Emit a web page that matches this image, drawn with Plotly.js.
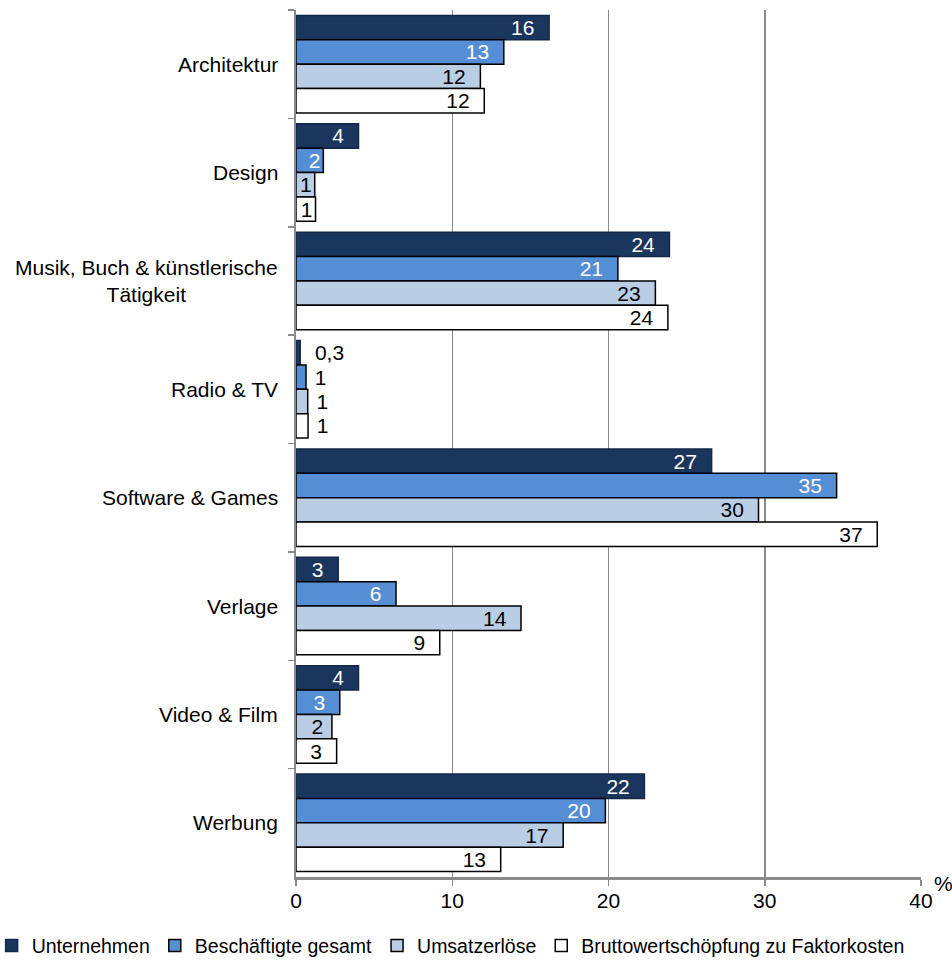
<!DOCTYPE html>
<html>
<head>
<meta charset="utf-8">
<script src="https://cdn.plot.ly/plotly-3.0.1.min.js"></script>
<style>
  html, body { margin: 0; padding: 0; background: #fff; }
  #chart { width: 952px; height: 962px; }
</style>
</head>
<body>
<div id="chart"></div>
<script>
// Branchen der Kreativwirtschaft
const categories = [
  'Architektur',
  'Design',
  'Musik, Buch & künstlerische<br>Tätigkeit',
  'Radio & TV',
  'Software & Games',
  'Verlage',
  'Video & Film',
  'Werbung'
];

// Anteile in %
const unternehmen   = [16.2, 4.0, 23.9, 0.27, 26.6, 2.7, 4.0, 22.3];
const beschaeftigte = [13.3, 1.75, 20.6, 0.64, 34.6, 6.4, 2.8, 19.8];
const umsatz        = [11.8, 1.2, 23.0, 0.75, 29.6, 14.4, 2.3, 17.1];
const brutto        = [12.05, 1.25, 23.8, 0.77, 37.2, 9.2, 2.6, 13.1];

const seriesNames = [
  'Unternehmen',
  'Beschäftigte gesamt',
  'Umsatzerlöse',
  'Bruttowertschöpfung zu Faktorkosten'
];

const xTicks = [0, 10, 20, 30, 40];

const FONT = 'Liberation Sans, Arial, sans-serif';
const GRID = '#8a8a8a';
const NB = '\u00a0';

// label text: value rounded, with a little inset from the bar end
function labelTemplate(v) {
  if (v < 0.5) return NB + NB + '%{x:.1f}';
  if (v < 1) return NB + '%{x:.0f}';
  const pad = v >= 2.5 ? 2 : (v >= 2 ? 1 : 0);
  return '%{x:.0f}' + NB.repeat(pad);
}

function makeTrace(values, name, fill, textColor, lineColor) {
  return {
    type: 'bar',
    orientation: 'h',
    name: name,
    y: categories,
    x: values,
    marker: { color: fill, line: { color: lineColor, width: 1.5 } },
    texttemplate: values.map(labelTemplate),
    textposition: values.map(v => v < 1 ? 'outside' : 'inside'),
    textangle: 0,
    insidetextanchor: 'end',
    constraintext: 'none',
    insidetextfont: { family: FONT, size: 21, color: textColor },
    outsidetextfont: { family: FONT, size: 21, color: '#000' },
    cliponaxis: false,
    hoverinfo: 'x+name'
  };
}

const data = [
  makeTrace(unternehmen,   seriesNames[0], '#1b365d', '#ffffff', '#14294a'),
  makeTrace(beschaeftigte, seriesNames[1], '#558ed5', '#ffffff', '#000000'),
  makeTrace(umsatz,        seriesNames[2], '#b9cde5', '#000000', '#000000'),
  makeTrace(brutto,        seriesNames[3], '#ffffff', '#000000', '#000000')
];

// category labels, centred line by line left of the axis
const labelAnnotations = categories.map(c => ({
  xref: 'paper', yref: 'y',
  x: 0, y: c,
  xanchor: 'right', yanchor: 'middle',
  xshift: -16,
  text: c,
  align: 'center',
  showarrow: false,
  font: { family: FONT, size: 21, color: '#000' }
}));

const layout = {
  width: 952,
  height: 962,
  margin: { l: 296, r: 31, t: 10, b: 85, pad: 0, autoexpand: false },
  paper_bgcolor: '#ffffff',
  plot_bgcolor: '#ffffff',
  font: { family: FONT, size: 21, color: '#000' },
  separators: ',.',
  barmode: 'group',
  bargap: 0.1,
  bargroupgap: 0,
  showlegend: true,
  xaxis: {
    range: [0, 40],
    tickvals: xTicks,
    ticktext: xTicks.map(String),
    showgrid: true,
    gridcolor: GRID,
    gridwidth: 1.5,
    zeroline: false,
    showline: true,
    linecolor: GRID,
    linewidth: 3,
    ticks: 'outside',
    ticklen: 6,
    tickwidth: 1.5,
    tickcolor: GRID,
    ticklabelstandoff: -3,
    tickfont: { family: FONT, size: 21, color: '#000' },
    automargin: false,
    fixedrange: true
  },
  yaxis: {
    type: 'category',
    autorange: 'reversed',
    showticklabels: false,
    showgrid: false,
    zeroline: false,
    showline: true,
    linecolor: GRID,
    linewidth: 2,
    ticks: 'outside',
    tickson: 'boundaries',
    ticklen: 6,
    tickwidth: 1.5,
    tickcolor: GRID,
    automargin: false,
    fixedrange: true
  },
  legend: {
    orientation: 'h',
    x: -0.487,
    xanchor: 'left',
    y: -0.057,
    yanchor: 'top',
    font: { family: FONT, size: 19.5, color: '#000' },
    itemwidth: 30,
    traceorder: 'normal',
    bgcolor: 'rgba(0,0,0,0)'
  },
  annotations: labelAnnotations.concat([{
    xref: 'paper', yref: 'paper',
    x: 1, y: 0,
    xanchor: 'left', yanchor: 'middle',
    xshift: 11, yshift: -6,
    text: '%',
    showarrow: false,
    font: { family: FONT, size: 21, color: '#000' }
  }])
};

Plotly.newPlot('chart', data, layout, { displayModeBar: false, staticPlot: true });
</script>
</body>
</html>
